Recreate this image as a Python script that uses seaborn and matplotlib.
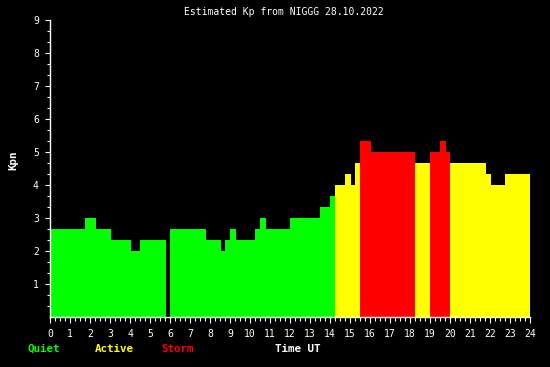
import numpy as np
import pandas as pd
import matplotlib
matplotlib.use("Agg")
import matplotlib.pyplot as plt
import seaborn as sns
from matplotlib.ticker import FixedLocator

# ---- data ----
seg_start = [0.0, 1.75, 2.3, 3.05, 4.05, 4.5, 6.0, 7.8, 8.55, 8.75, 9.0, 9.3,
             10.25, 10.5, 10.8, 12.0, 13.5, 14.0, 14.25, 14.75, 15.05, 15.25,
             15.5, 16.05, 18.25, 19.0, 19.5, 19.8, 20.0, 21.8, 22.05, 22.75]
seg_end = [1.75, 2.3, 3.05, 4.05, 4.5, 5.8, 7.8, 8.55, 8.75, 9.0, 9.3, 10.25,
           10.5, 10.8, 12.0, 13.5, 14.0, 14.25, 14.75, 15.05, 15.25, 15.5,
           16.05, 18.25, 19.0, 19.5, 19.8, 20.0, 21.8, 22.05, 22.75, 24.0]
kp = [2.67, 3.0, 2.67, 2.33, 2.0, 2.33, 2.67, 2.33, 2.0, 2.33, 2.67, 2.33,
      2.67, 3.0, 2.67, 3.0, 3.33, 3.67, 4.0, 4.33, 4.0, 4.67,
      5.33, 5.0, 4.67, 5.0, 5.33, 5.0, 4.67, 4.33, 4.0, 4.33]
categories = ["Quiet", "Active", "Storm"]
cat_colors = ["#00ff00", "#ffff00", "#ff0000"]
x_ticklabels = [str(h) for h in range(25)]
y_ticklabels = [str(k) for k in range(1, 10)]
title = "Estimated Kp from NIGGG 28.10.2022"

def level(v):
    if v >= 5:
        return "Storm"
    if v >= 4:
        return "Active"
    return "Quiet"

df = pd.DataFrame({
    "mid": [(a + b) / 2 for a, b in zip(seg_start, seg_end)],
    "kp": kp,
    "level": [level(v) for v in kp],
})
edges = sorted(set(seg_start) | set(seg_end))

sns.set_style("dark", {"axes.facecolor": "black", "figure.facecolor": "black"})
mono = ["DejaVu Sans Mono"]
plt.rcParams["font.family"] = mono

fig = plt.figure(figsize=(5.5, 3.67), dpi=100, facecolor="black")
ax = fig.add_axes([50 / 550, 50 / 367, 480 / 550, 297 / 367])
ax.set_facecolor("black")

sns.histplot(data=df, x="mid", weights="kp", hue="level", bins=edges,
             hue_order=categories, palette=dict(zip(categories, cat_colors)),
             multiple="layer", element="bars", alpha=1, linewidth=0,
             antialiased=False, legend=False, ax=ax)

ax.set_xlim(0, 24)
ax.set_ylim(0, 9)
ax.grid(False)
for s in ["top", "right"]:
    ax.spines[s].set_visible(False)
for s in ["left", "bottom"]:
    ax.spines[s].set_color("white")
    ax.spines[s].set_linewidth(1)
    ax.spines[s].set_visible(True)

ax.xaxis.set_major_locator(FixedLocator(range(25)))
ax.xaxis.set_minor_locator(FixedLocator(np.arange(0, 24.01, 0.25)))
ax.set_xticklabels(x_ticklabels)
ax.yaxis.set_major_locator(FixedLocator(range(1, 10)))
ax.yaxis.set_minor_locator(FixedLocator([i / 3 for i in range(1, 27)]))
ax.set_yticklabels(y_ticklabels)

ax.tick_params(axis="both", which="both", colors="white", labelcolor="white",
               direction="out", width=0.8, labelsize=7)
ax.tick_params(axis="x", which="major", length=4.3, pad=4.5, bottom=True)
ax.tick_params(axis="x", which="minor", length=2.8, bottom=True)
ax.tick_params(axis="y", which="major", length=3.6, pad=4.5, left=True)
ax.tick_params(axis="y", which="minor", length=2.2, left=True)

ax.set_xlabel("")
ax.set_ylabel("")

fig.text(284 / 550, 1 - 12 / 367, title, color="white", fontsize=7,
         ha="center", va="center", family=mono)
fig.text(13 / 550, 1 - 160 / 367, "Kpn", color="white", fontsize=7.8,
         fontweight="bold", rotation=90, ha="center", va="center", family=mono)
legend_items = [("Quiet", cat_colors[0], 28), ("Active", cat_colors[1], 95),
                ("Storm", cat_colors[2], 161), ("Time UT", "white", 275)]
for txt, col, xp in legend_items:
    fig.text(xp / 550, 1 - 349 / 367, txt, color=col, fontsize=7.8,
             fontweight="bold", ha="left", va="center", family=mono)

fig.savefig("out.png", dpi=100, facecolor="black")
